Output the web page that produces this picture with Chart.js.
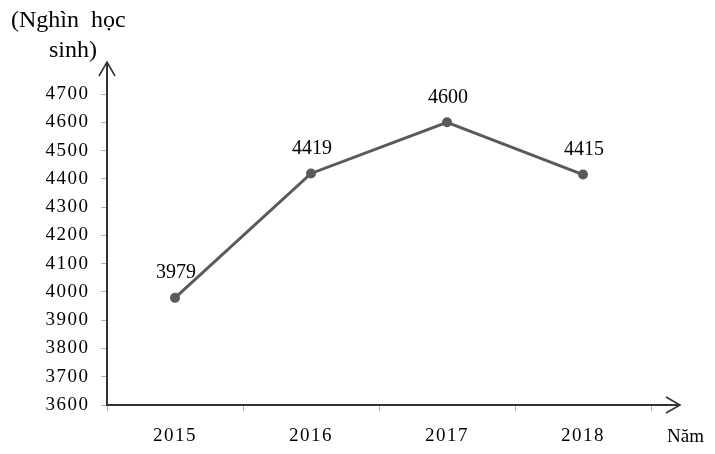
<!DOCTYPE html>
<html>
<head>
<meta charset="utf-8">
<script src="https://cdn.jsdelivr.net/npm/chart.js@4/dist/chart.umd.min.js"></script>
<style>
html,body{margin:0;padding:0;background:#fff;}
#wrap{position:relative;width:715px;height:454px;}
</style>
</head>
<body>
<div id="wrap"><canvas id="c" width="715" height="454"></canvas></div>
<script>
const categories = ['2015', '2016', '2017', '2018'];
const students = [3979, 4419, 4600, 4415];
const yMin = 3600, yMax = 4700, yStep = 100;
const yTitleLines = ['(Nghìn  học', 'sinh)'];
const xTitle = 'Năm';

const FONT = '"Liberation Serif", "Times New Roman", serif';
const AXIS = '#333333';
const LINE = '#5a5a5a';

const spacing = {
  id: 'spacing',
  beforeDraw(chart) { chart.ctx.letterSpacing = '1.5px'; },
  beforeDatasetsDraw(chart) { chart.ctx.letterSpacing = '0px'; }
};

const extras = {
  id: 'extras',
  afterDraw(chart) {
    const ctx = chart.ctx;
    const xs = chart.scales.x, ys = chart.scales.y;
    const ax = ys.right, ay = xs.top;
    ctx.save();
    ctx.letterSpacing = '0px';
    ctx.strokeStyle = AXIS;
    ctx.lineWidth = 2;
    ctx.beginPath();
    ctx.moveTo(ax, chart.chartArea.top);
    ctx.lineTo(ax, 62);
    ctx.stroke();
    ctx.lineWidth = 1.6;
    ctx.beginPath();
    ctx.moveTo(ax - 8, 76);
    ctx.lineTo(ax, 62);
    ctx.lineTo(ax + 8, 76);
    ctx.stroke();
    ctx.lineWidth = 2;
    ctx.beginPath();
    ctx.moveTo(chart.chartArea.right, ay);
    ctx.lineTo(680, ay);
    ctx.stroke();
    ctx.lineWidth = 1.6;
    ctx.beginPath();
    ctx.moveTo(666, ay - 8);
    ctx.lineTo(680, ay);
    ctx.lineTo(666, ay + 8);
    ctx.stroke();
    ctx.fillStyle = '#000';
    ctx.font = '24px ' + FONT;
    ctx.textBaseline = 'middle';
    ctx.textAlign = 'left';
    ctx.fillText(yTitleLines[0], 11, 21);
    ctx.textAlign = 'center';
    ctx.fillText(yTitleLines[1], 73, 51);
    ctx.font = '19px ' + FONT;
    ctx.textAlign = 'left';
    ctx.fillText(xTitle, 667, 437);
    const meta = chart.getDatasetMeta(0);
    ctx.font = '20px ' + FONT;
    ctx.textAlign = 'center';
    meta.data.forEach((pt, i) => {
      ctx.fillText(String(students[i]), pt.x + 1, pt.y - 25);
    });
    ctx.restore();
  }
};

new Chart(document.getElementById('c'), {
  type: 'line',
  data: {
    labels: categories,
    datasets: [{
      data: students,
      borderColor: LINE,
      backgroundColor: LINE,
      borderWidth: 3,
      pointRadius: 3.5,
      pointHoverRadius: 3.5,
      pointBackgroundColor: LINE,
      pointBorderColor: LINE,
      tension: 0,
      clip: false
    }]
  },
  options: {
    responsive: false,
    animation: false,
    events: [],
    layout: { padding: { top: 94, right: 64, left: 0, bottom: 0 } },
    plugins: { legend: { display: false }, tooltip: { enabled: false } },
    scales: {
      x: {
        type: 'category',
        offset: true,
        afterFit(s) { s.height = 49; },
        grid: { drawOnChartArea: false, drawTicks: true, tickLength: 6, color: '#b0b0b0', offset: true },
        border: { display: true, color: AXIS, width: 2 },
        ticks: { color: '#000', font: { family: FONT, size: 19 }, padding: 14, maxRotation: 0 }
      },
      y: {
        min: yMin, max: yMax,
        afterFit(s) { s.width = 107; },
        grid: { drawOnChartArea: false, drawTicks: true, tickLength: 6, color: '#b0b0b0' },
        border: { display: true, color: AXIS, width: 2 },
        ticks: { stepSize: yStep, color: '#000', font: { family: FONT, size: 19 }, padding: 11.5,
                 callback: (v) => String(v) }
      }
    }
  },
  plugins: [spacing, extras]
});
</script>
</body>
</html>
